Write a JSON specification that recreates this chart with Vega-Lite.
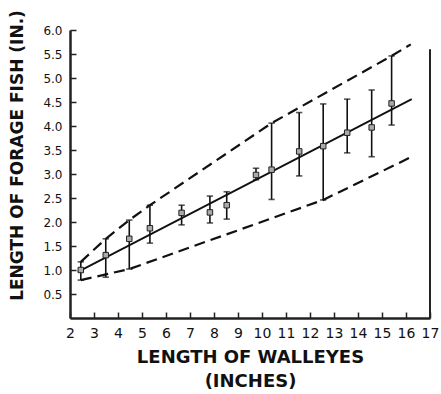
{
  "$schema": "https://vega.github.io/schema/vega-lite/v6.json",
  "width": 360,
  "height": 288,
  "autosize": "none",
  "padding": {"left": 70, "top": 30, "right": 11, "bottom": 76},
  "background": "white",
  "config": {
    "view": {"stroke": null},
    "font": "DejaVu Sans",
    "axis": {"grid": false, "domainColor": "#222", "domainWidth": 2.5, "tickColor": "#222", "labelColor": "#111", "titleColor": "#111"}
  },
  "datasets": {
    "pts": [
      {"x": 2.45, "y": 1.0, "lo": 0.79, "hi": 1.17},
      {"x": 3.49, "y": 1.31, "lo": 0.85, "hi": 1.65},
      {"x": 4.47, "y": 1.65, "lo": 1.02, "hi": 2.04},
      {"x": 5.33, "y": 1.87, "lo": 1.56, "hi": 2.35},
      {"x": 6.65, "y": 2.19, "lo": 1.94, "hi": 2.35},
      {"x": 7.83, "y": 2.2, "lo": 1.98, "hi": 2.54},
      {"x": 8.53, "y": 2.35, "lo": 2.06, "hi": 2.63},
      {"x": 9.75, "y": 2.98, "lo": 2.88, "hi": 3.12},
      {"x": 10.4, "y": 3.09, "lo": 2.47, "hi": 4.06},
      {"x": 11.55, "y": 3.47, "lo": 2.96, "hi": 4.28},
      {"x": 12.55, "y": 3.58, "lo": 2.46, "hi": 4.46},
      {"x": 13.55, "y": 3.86, "lo": 3.44, "hi": 4.56},
      {"x": 14.57, "y": 3.97, "lo": 3.36, "hi": 4.75},
      {"x": 15.4, "y": 4.47, "lo": 4.02, "hi": 5.46}
    ],
    "curves": [
      {"series": "upper", "order": 1, "x": 2.45, "y": 1.17},
      {"series": "upper", "order": 2, "x": 3.49, "y": 1.65},
      {"series": "upper", "order": 3, "x": 4.47, "y": 2.04},
      {"series": "upper", "order": 4, "x": 5.33, "y": 2.35},
      {"series": "upper", "order": 5, "x": 10.4, "y": 4.06},
      {"series": "upper", "order": 6, "x": 15.4, "y": 5.46},
      {"series": "upper", "order": 7, "x": 16.2, "y": 5.7},
      {"series": "lower", "order": 1, "x": 2.45, "y": 0.79},
      {"series": "lower", "order": 2, "x": 4.47, "y": 1.02},
      {"series": "lower", "order": 3, "x": 12.55, "y": 2.46},
      {"series": "lower", "order": 4, "x": 16.24, "y": 3.36}
    ],
    "fit": [
      {"x": 2.33, "y": 0.96},
      {"x": 16.24, "y": 4.56}
    ],
    "frame": [
      {"x": 17, "y": 0, "y2": 5.6}
    ]
  },
  "encoding": {
    "x": {"field": "x", "type": "quantitative", "scale": {"domain": [2, 17], "nice": false},
      "axis": {"values": [2,3,4,5,6,7,8,9,10,11,12,13,14,15,16,17], "ticks": true, "tickSize": -6, "tickWidth": 1.5, "labelFontSize": 14, "labelPadding": 14, "labelFlush": false, "labelOverlap": false, "labelBound": false,
        "title": ["LENGTH OF WALLEYES", "(INCHES)"], "titleFontSize": 18, "titleFontWeight": "bold", "titleLineHeight": 24, "titlePadding": 8}},
    "y": {"field": "y", "type": "quantitative", "scale": {"domain": [0, 6], "nice": false},
      "axis": {"values": [0.5,1,1.5,2,2.5,3,3.5,4,4.5,5,5.5,6], "format": ".1f", "ticks": true, "tickSize": -6, "tickWidth": 1.5, "labelFontSize": 12, "labelPadding": 14, "labelOverlap": false, "labelBound": false, "labelFlush": false,
        "title": "LENGTH OF FORAGE FISH (IN.)", "titleFontSize": 17, "titleFontWeight": "bold", "titlePadding": 16, "titleY": 125}}
  },
  "layer": [
    {
      "data": {"name": "pts"},
      "mark": {"type": "rule", "color": "#111", "strokeWidth": 1.6},
      "encoding": {"y": {"field": "lo", "type": "quantitative"}, "y2": {"field": "hi"}}
    },
    {
      "data": {"name": "pts"},
      "mark": {"type": "point", "shape": "M-1,0H1", "filled": false, "stroke": "#111", "strokeWidth": 1.6, "size": 40},
      "encoding": {"y": {"field": "hi", "type": "quantitative"}}
    },
    {
      "data": {"name": "pts"},
      "mark": {"type": "point", "shape": "M-1,0H1", "filled": false, "stroke": "#111", "strokeWidth": 1.6, "size": 40},
      "encoding": {"y": {"field": "lo", "type": "quantitative"}}
    },
    {
      "data": {"name": "fit"},
      "mark": {"type": "line", "color": "#111", "strokeWidth": 1.8},
      "encoding": {}
    },
    {
      "data": {"name": "curves"},
      "mark": {"type": "line", "color": "#111", "strokeWidth": 2.2, "strokeDash": [11, 6]},
      "encoding": {"detail": {"field": "series"}, "order": {"field": "order"}}
    },
    {
      "data": {"name": "pts"},
      "mark": {"type": "point", "shape": "square", "filled": true, "fill": "#aaa", "stroke": "#222", "strokeWidth": 1, "size": 30, "opacity": 1},
      "encoding": {}
    },
    {
      "data": {"name": "frame"},
      "mark": {"type": "rule", "color": "#222", "strokeWidth": 2},
      "encoding": {"y": {"field": "y", "type": "quantitative"}, "y2": {"field": "y2"}}
    }
  ]
}
